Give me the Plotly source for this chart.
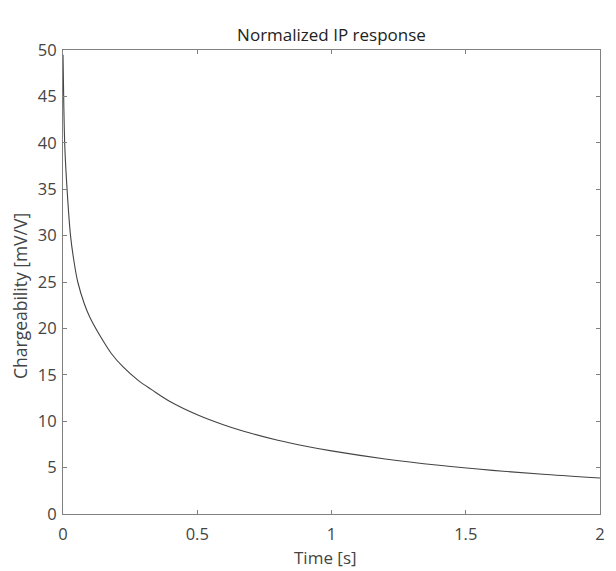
import plotly.graph_objects as go

time_s = [0.0, 0.003, 0.007, 0.016, 0.028, 0.04, 0.055, 0.08, 0.1, 0.138,
          0.18, 0.222, 0.28, 0.33, 0.4, 0.5, 0.6, 0.7, 0.8, 0.9,
          1.0, 1.2, 1.4, 1.6, 1.8, 2.0]
chargeability = [49.5, 44.0, 39.4, 34.6, 30.0, 27.4, 25.0, 22.6, 21.2, 19.2,
                 17.3, 15.9, 14.4, 13.4, 12.1, 10.7, 9.6, 8.7, 7.95, 7.33,
                 6.8, 5.93, 5.25, 4.7, 4.25, 3.88]

x_ticks = [0, 0.5, 1, 1.5, 2]
x_tick_labels = ["0", "0.5", "1", "1.5", "2"]
y_ticks = [0, 5, 10, 15, 20, 25, 30, 35, 40, 45, 50]

font_family = "Open Sans, Noto Sans, sans-serif"
text_color = "#444444"
axis_color = "#808080"

W, H = 616, 571
L, R, T, B = 63, 16, 50, 57
PW, PH = W - L - R, H - T - B

fig = go.Figure()
fig.add_trace(go.Scatter(
    x=time_s, y=chargeability, mode="lines",
    line=dict(color="#444444", width=1.1, shape="spline", smoothing=1.0),
    showlegend=False, hoverinfo="skip",
))

axis_common = dict(
    showline=True, linecolor=axis_color, linewidth=1.2, mirror="ticks",
    ticks="inside", ticklen=4, tickcolor=axis_color, tickwidth=1,
    showgrid=False, zeroline=False, automargin=False,
    tickfont=dict(family=font_family, size=16.5, color=text_color),
)

fig.update_layout(
    width=W, height=H,
    margin=dict(l=L, r=R, t=T, b=B),
    paper_bgcolor="white", plot_bgcolor="white",
    title=dict(text="Normalized IP response", xref="paper", x=0.5, xanchor="center",
               y=1 - 35 / H, yanchor="middle",
               font=dict(family=font_family, size=17, color="#222222")),
    xaxis=dict(range=[0, 2], tickvals=x_ticks, ticktext=x_tick_labels,
               ticklabelstandoff=5, **axis_common),
    yaxis=dict(range=[0, 50], tickvals=y_ticks, ticklabelstandoff=2,
               **axis_common),
    annotations=[
        dict(text="Time [s]", xref="paper", yref="paper",
             x=(325 - L) / PW, y=(H - B - 557) / PH,
             xanchor="center", yanchor="middle", showarrow=False,
             font=dict(family=font_family, size=17, color=text_color)),
        dict(text="Chargeability [mV/V]", xref="paper", yref="paper",
             x=(20 - L) / PW, y=(H - B - 296) / PH, textangle=-90,
             xanchor="center", yanchor="middle", showarrow=False,
             font=dict(family=font_family, size=17.5, color=text_color)),
    ],
)

fig.write_html("out.html", config={"displayModeBar": False},
               post_script="document.body.style.margin='0px';")
